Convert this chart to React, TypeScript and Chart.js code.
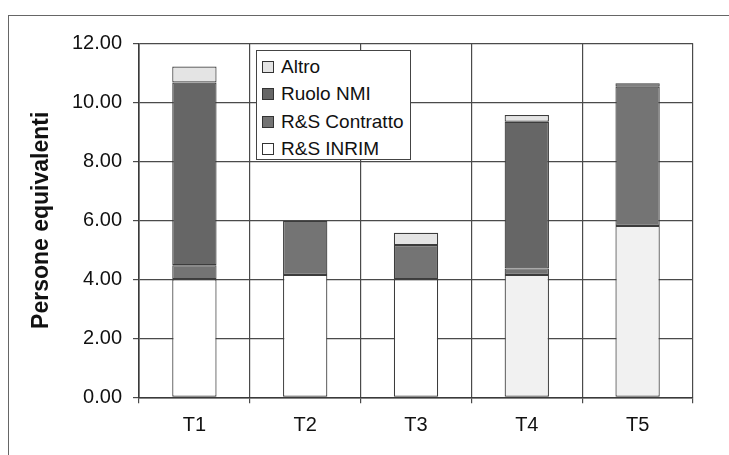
import React, { useEffect, useRef } from "react";
import { Chart, registerables } from "chart.js";

Chart.register(...registerables);

const categories = ["T1", "T2", "T3", "T4", "T5"];
const inrim = [4.0, 4.15, 4.0, 4.15, 5.81];
const contratto = [0.48, 1.83, 1.16, 0.22, 4.72];
const ruolo = [6.19, 0, 0, 4.97, 0.12];
const altro = [0.54, 0, 0.42, 0.23, 0];
const yTicks = [0, 2, 4, 6, 8, 10, 12];

const legendItems = [
  { label: "Altro", color: "#e4e4e4" },
  { label: "Ruolo NMI", color: "#666666" },
  { label: "R&S Contratto", color: "#747474" },
  { label: "R&S INRIM", color: "#ffffff" },
];

const FONT = "'Liberation Sans', Arial, sans-serif";

export default function App() {
  const ref = useRef<HTMLCanvasElement | null>(null);

  useEffect(() => {
    if (!ref.current) return;
    Chart.defaults.font.family = FONT;
    Chart.defaults.color = "#111";
    const border = "#3c3c3c";
    const chart = new Chart(ref.current, {
      type: "bar",
      data: {
        labels: categories,
        datasets: [
          {
            label: "R&S INRIM",
            data: inrim,
            backgroundColor: ["#ffffff", "#ffffff", "#ffffff", "#f1f1f1", "#f1f1f1"],
            borderColor: border,
            borderWidth: 1.2,
            borderSkipped: false,
          },
          {
            label: "R&S Contratto",
            data: contratto,
            backgroundColor: "#747474",
            borderColor: border,
            borderWidth: 1.2,
            borderSkipped: false,
          },
          {
            label: "Ruolo NMI",
            data: ruolo,
            backgroundColor: "#666666",
            borderColor: border,
            borderWidth: 1.2,
            borderSkipped: false,
          },
          {
            label: "Altro",
            data: altro,
            backgroundColor: "#e4e4e4",
            borderColor: border,
            borderWidth: 1.2,
            borderSkipped: false,
          },
        ],
      },
      options: {
        responsive: false,
        animation: false,
        devicePixelRatio: 1,
        layout: { padding: { left: 8, top: 43.3, right: 36, bottom: 0 } },
        plugins: { legend: { display: false }, tooltip: { enabled: false } },
        datasets: { bar: { barPercentage: 0.4, categoryPercentage: 1 } },
        scales: {
          x: {
            stacked: true,
            grid: { color: "#4a4a4a", lineWidth: 1.2, offset: true, tickLength: 6 },
            border: { color: "#3a3a3a", width: 1.6 },
            ticks: { font: { size: 20 }, padding: 10, color: "#111" },
            afterFit: (s: any) => {
              s.height = 455 - 397.3;
            },
          },
          y: {
            stacked: true,
            min: 0,
            max: 12,
            afterBuildTicks: (s: any) => {
              s.ticks = yTicks.map((v) => ({ value: v }));
            },
            grid: { color: "#4a4a4a", lineWidth: 1.2, tickLength: 6 },
            border: { color: "#3a3a3a", width: 1.6 },
            ticks: {
              font: { size: 20 },
              padding: 11,
              color: "#111",
              callback: (v: any) => Number(v).toFixed(2),
            },
            title: {
              display: true,
              text: "Persone equivalenti",
              font: { size: 23, weight: "bold" },
              color: "#111",
              padding: { top: 20, bottom: 0 },
            },
            afterFit: (s: any) => {
              s.width = 131;
            },
          },
        },
      },
    });
    return () => chart.destroy();
  }, []);

  return (
    <div
      style={{
        position: "fixed",
        left: 0,
        top: 0,
        width: 729,
        height: 455,
        background: "#fff",
        overflow: "hidden",
      }}
    >
      <div
        style={{
          position: "absolute",
          left: 8,
          top: 15,
          width: 800,
          height: 500,
          borderLeft: "1.5px solid #666",
          borderTop: "1.5px solid #666",
        }}
      />
      <canvas
        ref={ref}
        width={729}
        height={455}
        style={{ position: "absolute", left: 0, top: 0 }}
      />
      <div
        style={{
          position: "absolute",
          left: 256,
          top: 50,
          width: 155,
          height: 110,
          boxSizing: "border-box",
          border: "1.2px solid #444",
          background: "#fff",
          fontFamily: FONT,
          fontSize: 19,
          color: "#111",
        }}
      >
        {legendItems.map((it, i) => (
          <div
            key={it.label}
            style={{
              position: "absolute",
              left: 5,
              top: 16 - 11 + i * 27.4,
              height: 22,
              display: "flex",
              alignItems: "center",
              whiteSpace: "nowrap",
            }}
          >
            <span
              style={{
                display: "inline-block",
                width: 12,
                height: 12,
                boxSizing: "border-box",
                border: "1px solid #333",
                background: it.color,
                marginRight: 7,
              }}
            />
            <span>{it.label}</span>
          </div>
        ))}
      </div>
    </div>
  );
}
